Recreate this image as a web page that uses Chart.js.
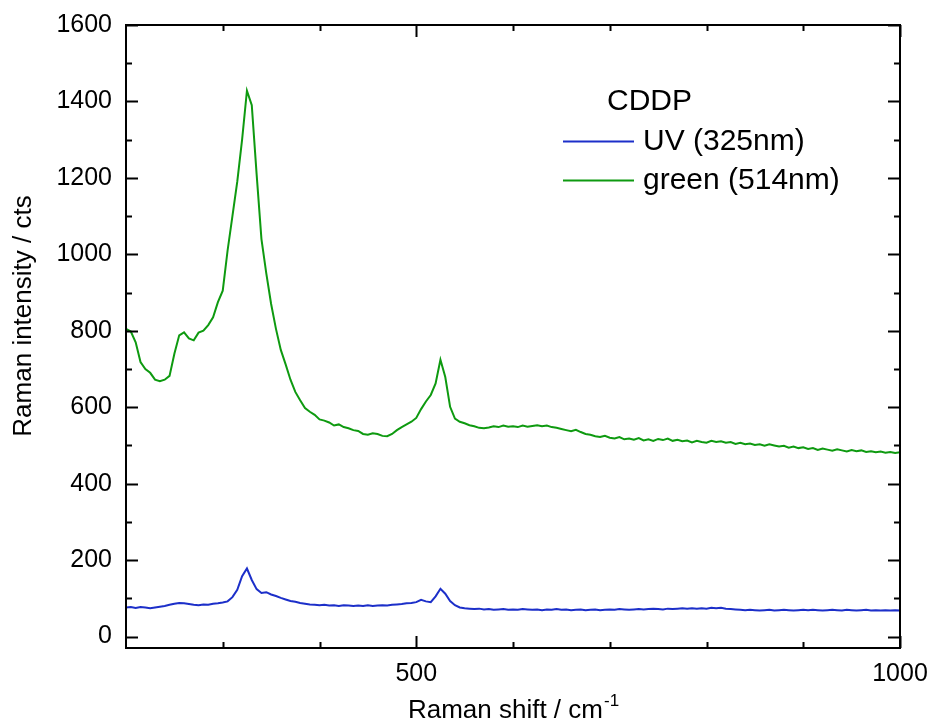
<!DOCTYPE html>
<html>
<head>
<meta charset="utf-8">
<title>CDDP Raman spectra</title>
<script src="https://cdn.jsdelivr.net/npm/chart.js@4.4.1/dist/chart.umd.min.js"></script>
<style>
  html, body { margin: 0; padding: 0; background: #fff; }
  #wrap { width: 931px; height: 722px; position: relative; }
</style>
</head>
<body>
<div id="wrap"><canvas id="raman"></canvas></div>
<script>
// Raman shift (cm^-1), sampled every 5 cm^-1
const ramanShift = [
  200, 205, 210, 215, 220, 225, 230, 235, 240, 245, 250, 255, 260, 265, 270, 275, 280, 285, 290, 295,
  300, 305, 310, 315, 320, 325, 330, 335, 340, 345, 350, 355, 360, 365, 370, 375, 380, 385, 390, 395,
  400, 405, 410, 415, 420, 425, 430, 435, 440, 445, 450, 455, 460, 465, 470, 475, 480, 485, 490, 495,
  500, 505, 510, 515, 520, 525, 530, 535, 540, 545, 550, 555, 560, 565, 570, 575, 580, 585, 590, 595,
  600, 605, 610, 615, 620, 625, 630, 635, 640, 645, 650, 655, 660, 665, 670, 675, 680, 685, 690, 695,
  700, 705, 710, 715, 720, 725, 730, 735, 740, 745, 750, 755, 760, 765, 770, 775, 780, 785, 790, 795,
  800, 805, 810, 815, 820, 825, 830, 835, 840, 845, 850, 855, 860, 865, 870, 875, 880, 885, 890, 895,
  900, 905, 910, 915, 920, 925, 930, 935, 940, 945, 950, 955, 960, 965, 970, 975, 980, 985, 990, 995,
  1000,
];

// UV (325nm) intensity, cts
const uvCounts = [
  76, 77, 75, 77, 76, 74, 76, 78, 80, 83, 86, 88, 87, 85, 83, 82, 84, 83, 86, 87,
  89, 92, 103, 122, 158, 178, 148, 124, 114, 116, 110, 106, 101, 97, 93, 91, 88, 86, 84, 83,
  82, 83, 81, 82, 80, 82, 81, 80, 81, 80, 82, 80, 81, 82, 81, 83, 84, 85, 87, 88,
  90, 96, 92, 90, 105, 125, 112, 93, 82, 76, 74, 73, 72, 73, 71, 72, 70, 71, 72, 70,
  71, 70, 72, 71, 70, 71, 69, 71, 70, 72, 70, 71, 69, 70, 71, 69, 70, 71, 69, 70,
  71, 70, 72, 71, 70, 71, 72, 71, 72, 73, 72, 71, 73, 72, 73, 74, 73, 74, 73, 74,
  73, 75, 74, 75, 73, 72, 71, 70, 69, 70, 69, 68, 69, 70, 68, 69, 70, 69, 68, 69,
  70, 69, 70, 69, 68, 69, 70, 69, 68, 70, 69, 68, 69, 70, 68, 69, 68, 69, 68, 69,
  68,
];

// green (514nm) intensity, cts
const greenCounts = [
  805, 798, 770, 718, 700, 690, 672, 668, 672, 682, 740, 788, 796, 780, 775, 795, 800, 815, 835, 875,
  905, 1010, 1100, 1190, 1300, 1428, 1390, 1210, 1040, 950, 870, 805, 750, 712, 672, 640, 618, 598, 588, 580,
  568, 565, 560, 552, 555, 548, 545, 540, 538, 530, 528, 532, 530, 525, 524, 530, 540, 548, 555, 562,
  572, 595, 615, 632, 662, 724, 679, 601, 570, 562, 558, 553, 550, 546, 545, 547, 550, 548, 552, 549,
  550, 548, 552, 549, 551, 553, 550, 552, 548, 546, 543, 540, 537, 541, 535, 530, 528, 524, 522, 525,
  520, 518, 522, 516, 518, 515, 519, 513, 516, 512, 517, 514, 518, 512, 515, 511, 513, 508, 512, 509,
  507, 512, 509, 511, 507, 509, 504, 507, 503, 505, 501, 503, 499, 503, 500, 497, 499, 494, 497, 493,
  495, 491, 493, 488, 492, 489, 486, 490, 487, 484, 488, 485, 487, 483, 485, 482, 484, 481, 483, 480,
  482,
];

const seriesLabels = ["UV (325nm)", "green (514nm)"];
const legendTitle = "CDDP";

// tick positions
const xMajorTicks = [500, 1000];
const xMinorTicks = [300, 400, 600, 700, 800, 900];
const yMajorTicks = [0, 200, 400, 600, 800, 1000, 1200, 1400, 1600];
const yMinorTicks = [100, 300, 500, 700, 900, 1100, 1300, 1500];

const UV_COLOR = "#1c2fc9";
const GREEN_COLOR = "#0e9a10";
const FONT = "'Liberation Sans', Arial, sans-serif";

const toPoints = (ys) => ramanShift.map((x, i) => ({ x, y: ys[i] }));

/** Frame with inward ticks on all four sides, plus axis titles and legend. */
const framePlugin = {
  id: "originFrame",
  afterDraw(chart) {
    const { ctx, chartArea: a, scales } = chart;
    const xs = scales.x, ys = scales.y;
    ctx.save();
    ctx.strokeStyle = "#000";
    ctx.lineWidth = 2;
    ctx.strokeRect(a.left, a.top, a.right - a.left, a.bottom - a.top);

    const tick = (vals, len, horiz) => {
      vals.forEach((v) => {
        ctx.beginPath();
        if (horiz) {
          const px = Math.round(xs.getPixelForValue(v)) + 0.5;
          ctx.moveTo(px, a.bottom); ctx.lineTo(px, a.bottom - len);
          ctx.moveTo(px, a.top); ctx.lineTo(px, a.top + len);
        } else {
          const py = Math.round(ys.getPixelForValue(v)) + 0.5;
          ctx.moveTo(a.left, py); ctx.lineTo(a.left + len, py);
          ctx.moveTo(a.right, py); ctx.lineTo(a.right - len, py);
        }
        ctx.stroke();
      });
    };
    tick(xMajorTicks, 12, true);
    tick(xMinorTicks, 6, true);
    tick(yMajorTicks, 12, false);
    tick(yMinorTicks, 6, false);

    ctx.fillStyle = "#000";
    // y title
    ctx.save();
    ctx.translate(24, 316);
    ctx.rotate(-Math.PI / 2);
    ctx.font = `26px ${FONT}`;
    ctx.textAlign = "center";
    ctx.textBaseline = "middle";
    ctx.fillText("Raman intensity / cts", 0, 0);
    ctx.restore();

    // x title with superscript
    const main = "Raman shift / cm";
    const sup = "-1";
    ctx.font = `26px ${FONT}`;
    const wMain = ctx.measureText(main).width;
    ctx.font = `17px ${FONT}`;
    const wSup = ctx.measureText(sup).width;
    const cx = (a.left + a.right) / 2;
    const x0 = cx - (wMain + wSup) / 2;
    ctx.textAlign = "left";
    ctx.textBaseline = "alphabetic";
    ctx.font = `26px ${FONT}`;
    ctx.fillText(main, x0, 718);
    ctx.font = `17px ${FONT}`;
    ctx.fillText(sup, x0 + wMain + 1, 706);

    // legend
    ctx.font = `30px ${FONT}`;
    ctx.textBaseline = "middle";
    ctx.fillText(legendTitle, 607, 102);
    const items = [
      { label: seriesLabels[0], color: UV_COLOR, y: 141 },
      { label: seriesLabels[1], color: GREEN_COLOR, y: 180 },
    ];
    items.forEach((it) => {
      ctx.strokeStyle = it.color;
      ctx.lineWidth = 2;
      ctx.beginPath();
      ctx.moveTo(563, it.y + 0.5);
      ctx.lineTo(634, it.y + 0.5);
      ctx.stroke();
      ctx.fillStyle = "#000";
      ctx.fillText(it.label, 643, it.y + 1);
    });
    ctx.restore();
  },
};

new Chart(document.getElementById("raman"), {
  type: "line",
  data: {
    datasets: [
      { label: seriesLabels[0], data: toPoints(uvCounts), borderColor: UV_COLOR },
      { label: seriesLabels[1], data: toPoints(greenCounts), borderColor: GREEN_COLOR },
    ],
  },
  options: {
    responsive: true,
    maintainAspectRatio: false,
    animation: false,
    parsing: false,
    layout: { padding: { left: 0, top: 25, right: 31, bottom: 0 } },
    elements: {
      line: { borderWidth: 2, tension: 0, fill: false },
      point: { radius: 0 },
    },
    scales: {
      x: {
        type: "linear",
        min: 200,
        max: 1000,
        afterBuildTicks: (s) => { s.ticks = xMajorTicks.map((v) => ({ value: v })); },
        afterFit: (s) => { s.height = 74; s.paddingLeft = 0; s.paddingRight = 0; },
        grid: { display: false, drawTicks: false },
        border: { display: false },
        ticks: {
          color: "#000", padding: 11, maxRotation: 0,
          font: { family: FONT, size: 25 },
          callback: (v) => String(v),
        },
      },
      y: {
        type: "linear",
        min: -30,
        max: 1600,
        afterBuildTicks: (s) => { s.ticks = yMajorTicks.map((v) => ({ value: v })); },
        afterFit: (s) => { s.width = 126; s.paddingTop = 0; s.paddingBottom = 0; },
        grid: { display: false, drawTicks: false },
        border: { display: false },
        ticks: {
          color: "#000", padding: 14,
          font: { family: FONT, size: 25 },
          callback: (v) => String(v),
        },
      },
    },
    plugins: {
      legend: { display: false },
      tooltip: { enabled: false },
    },
  },
  plugins: [framePlugin],
});
</script>
</body>
</html>
